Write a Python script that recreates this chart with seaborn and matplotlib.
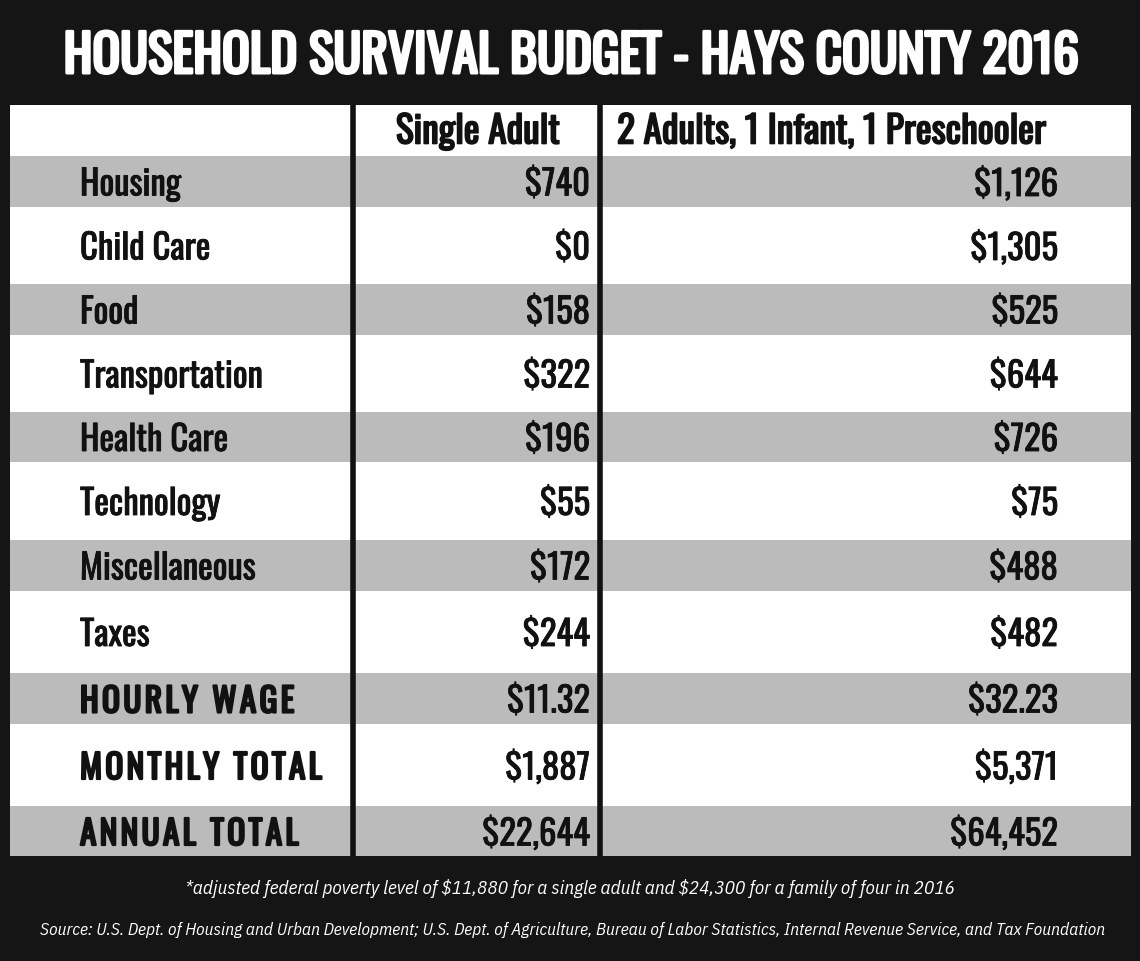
import matplotlib
matplotlib.use("Agg")
import matplotlib.pyplot as plt
import matplotlib.patheffects as pe
from matplotlib.patches import Rectangle
import seaborn as sns

# ---- data ----
title = "HOUSEHOLD SURVIVAL BUDGET - HAYS COUNTY 2016"
col_headers = ["Single Adult", "2 Adults, 1 Infant, 1 Preschooler"]
categories = ["Housing", "Child Care", "Food", "Transportation", "Health Care",
              "Technology", "Miscellaneous", "Taxes"]
single_adult = [740, 0, 158, 322, 196, 55, 172, 244]
family_four = [1126, 1305, 525, 644, 726, 75, 488, 482]
total_labels = ["HOURLY WAGE", "MONTHLY TOTAL", "ANNUAL TOTAL"]
hourly_wage = [11.32, 32.23]
monthly_total = [1887, 5371]
annual_total = [22644, 64452]
footnote = ("*adjusted federal poverty level of $11,880 for a single adult "
            "and $24,300 for a family of four in 2016")
source = ("Source: U.S. Dept. of Housing and Urban Development; U.S. Dept. of Agriculture, "
          "Bureau of Labor Statistics, Internal Revenue Service, and Tax Foundation")

# ---- layout (pixel units of the 1140x961 canvas) ----
row_edges = [156, 207, 284, 335, 412, 462, 540, 591, 673, 724, 806, 856]
table_left, table_right, table_top = 10, 1131, 105
col_lines = [353, 600]
BG = "#151515"
GRAY = "#bbbbbb"
INK = "#111111"
HEAD_FONT = ["Oswald", "DejaVu Sans"]
NOTE_FONT = ["IBM Plex Sans Condensed", "DejaVu Sans"]

sns.set_theme(style="white")
plt.rcParams["font.family"] = HEAD_FONT
plt.rcParams["text.parse_math"] = False


def heavy(color, w):
    # thicken the single-weight condensed face a little
    return [pe.withStroke(linewidth=w, foreground=color)]


fig = plt.figure(figsize=(11.4, 9.61), dpi=100)
fig.patch.set_facecolor(BG)
ax = fig.add_axes([0, 0, 1, 1])
ax.set_facecolor(BG)
ax.set_xlim(0, 1140)
ax.set_ylim(961, 0)
ax.axis("off")

# table body
ax.add_patch(Rectangle((table_left, table_top), table_right - table_left,
                       row_edges[-1] - table_top, facecolor="white", lw=0))
for i in range(len(row_edges) - 1):
    if i % 2 == 0:
        ax.axhspan(row_edges[i], row_edges[i + 1],
                   xmin=table_left / 1140, xmax=table_right / 1140,
                   color=GRAY, lw=0)
ax.vlines(col_lines, table_top, row_edges[-1], color=INK, lw=4)

# title
ax.text(571, 57, title, color="white", fontsize=37,
        ha="center", va="center", path_effects=heavy("white", 2.2))

# column headers
ax.text(560, 132, col_headers[0], color=INK, fontsize=27,
        ha="right", va="center", path_effects=heavy(INK, 1.2))
ax.text(617, 132, col_headers[1], color=INK, fontsize=27,
        ha="left", va="center", path_effects=heavy(INK, 1.2))


def spaced(s):
    return "\u200a".join(s)


# rows
labels = categories + [spaced(t) for t in total_labels]
col1 = [f"${v:,}" for v in single_adult] + [f"${hourly_wage[0]:.2f}",
                                            f"${monthly_total[0]:,}",
                                            f"${annual_total[0]:,}"]
col2 = [f"${v:,}" for v in family_four] + [f"${hourly_wage[1]:.2f}",
                                           f"${monthly_total[1]:,}",
                                           f"${annual_total[1]:,}"]
centers = [(row_edges[i] + row_edges[i + 1]) / 2 for i in range(len(row_edges) - 1)]
for i, (lab, v1, v2) in enumerate(zip(labels, col1, col2)):
    y = centers[i] + 3
    is_total = i >= len(categories)
    ax.text(80, y, lab, color=INK, fontsize=24 if is_total else 25,
            ha="left", va="center",
            path_effects=heavy(INK, 1.6 if is_total else 0.6))
    ax.text(590, y, v1, color=INK, fontsize=25, ha="right", va="center",
            path_effects=heavy(INK, 0.6))
    ax.text(1058, y, v2, color=INK, fontsize=25, ha="right", va="center",
            path_effects=heavy(INK, 0.6))

# footer
ax.text(570, 888, footnote, color="white", fontsize=13.8, style="italic",
        family=NOTE_FONT, ha="center", va="center")
ax.text(573, 930, source, color="white", fontsize=12.5, style="italic",
        family=NOTE_FONT, ha="center", va="center")

fig.savefig("out.png", dpi=100, facecolor=BG)
